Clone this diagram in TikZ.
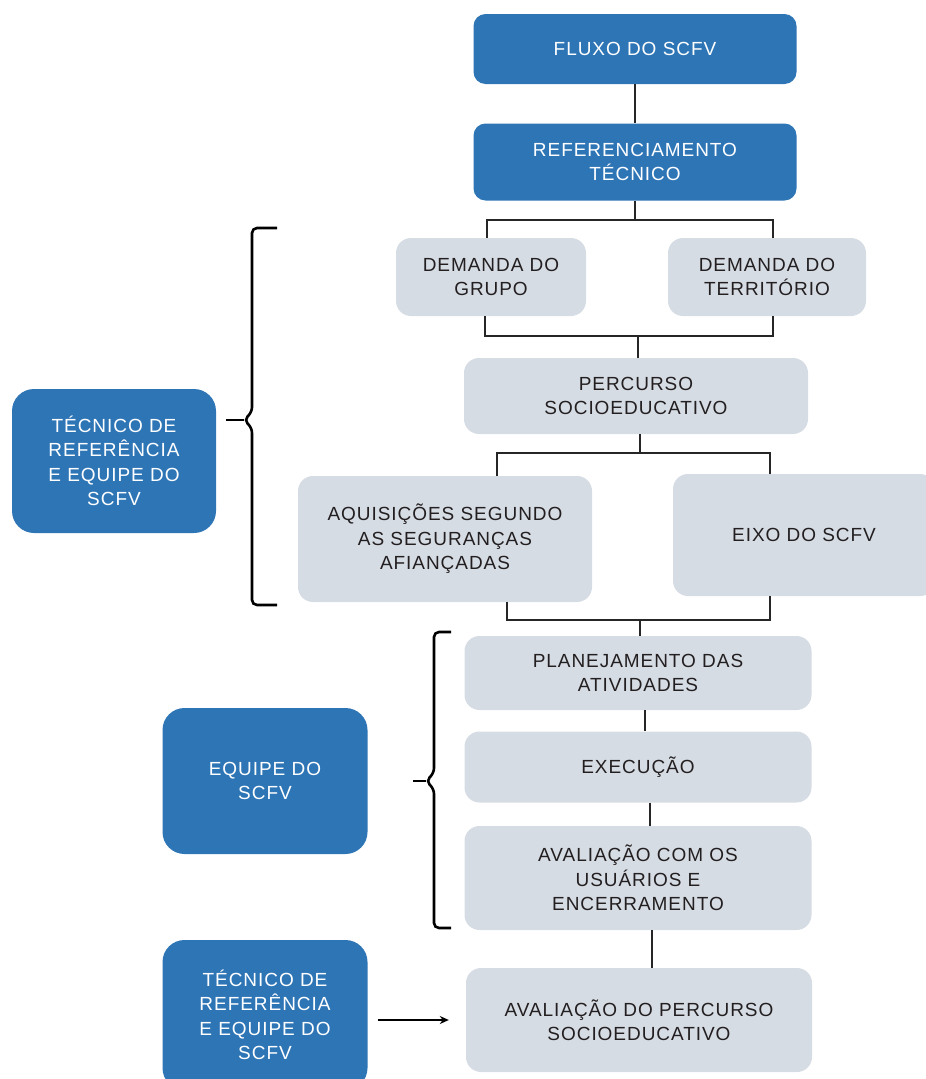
\documentclass[tikz,border=0pt]{standalone}
\usepackage{fontspec}
\setmainfont{Liberation Sans}[LetterSpace=5]
\usetikzlibrary{arrows.meta}
\definecolor{bblue}{RGB}{46,117,182}
\definecolor{bgray}{RGB}{214,220,228}
\definecolor{tdark}{RGB}{35,31,32}
\begin{document}
\begin{tikzpicture}[x=1pt,y=-1pt,
  box/.style={rectangle, rounded corners=12pt, align=center, inner sep=0pt,
              font=\fontsize{19}{24.5}\selectfont},
  bluebox/.style={box, fill=bblue, text=white},
  sidebox/.style={bluebox, rounded corners=22pt, minimum width=205, minimum height=145},
  graybox/.style={box, fill=bgray, text=tdark, rounded corners=15pt},
  conn/.style={draw=black!85, line width=1.8pt},
  bracestyle/.style={draw=black, line width=2.6pt, rounded corners=5pt}]
\useasboundingbox (0,0) rectangle (926,1079);

% main column
\node[bluebox, minimum width=323, minimum height=70] (fluxo) at (635,49) {FLUXO DO SCFV};
\node[bluebox, minimum width=323, minimum height=77] (ref) at (635,162) {REFERENCIAMENTO\\TÉCNICO};
\node[graybox, minimum width=190, minimum height=78] (grupo) at (491,277) {DEMANDA DO\\GRUPO};
\node[graybox, minimum width=198, minimum height=78] (terr) at (767,277) {DEMANDA DO\\TERRITÓRIO};
\node[graybox, minimum width=344, minimum height=76] (perc) at (636,396) {PERCURSO\\SOCIOEDUCATIVO};
\node[graybox, minimum width=294, minimum height=126] (aquis) at (445,539) {AQUISIÇÕES SEGUNDO\\AS SEGURANÇAS\\AFIANÇADAS};
\node[graybox, minimum width=262, minimum height=122] (eixo) at (804,535) {EIXO DO SCFV};
\node[graybox, minimum width=347, minimum height=74] (plan) at (638,673) {PLANEJAMENTO DAS\\ATIVIDADES};
\node[graybox, minimum width=347, minimum height=71] (exec) at (638,767) {EXECUÇÃO};
\node[graybox, minimum width=347, minimum height=104] (aval) at (638,878) {AVALIAÇÃO COM OS\\USUÁRIOS E\\ENCERRAMENTO};
\node[graybox, minimum width=346, minimum height=104] (avalp) at (639,1020) {AVALIAÇÃO DO PERCURSO\\SOCIOEDUCATIVO};

% side boxes
\node[sidebox, minimum width=204, minimum height=144] (tec1) at (114,461) {TÉCNICO DE\\REFERÊNCIA\\E EQUIPE DO\\SCFV};
\node[sidebox, minimum width=205, minimum height=146] (equipe) at (265,781) {EQUIPE DO\\SCFV};
\node[sidebox, minimum width=205, minimum height=150] (tec2) at (265,1015) {TÉCNICO DE\\REFERÊNCIA\\E EQUIPE DO\\SCFV};

% connectors
\coordinate (j1) at (635,220);
\coordinate (j2) at (638,336);
\coordinate (j3) at (640,453);
\coordinate (j4) at (640,620);

\draw[conn] (fluxo.south) -- (ref.north);
\draw[conn] (ref.south) -- (j1);
\draw[conn] ([xshift=-4]grupo.north) |- (j1) -| ([xshift=6]terr.north);
\draw[conn] ([xshift=-6]grupo.south) |- (j2) -| ([xshift=6]terr.south);
\draw[conn] (j2) -- (j2 |- perc.north);
\draw[conn] (j3 |- perc.south) -- (j3);
\draw[conn] ([xshift=52]aquis.north) |- (j3) -| ([xshift=-34]eixo.north);
\draw[conn] ([xshift=62]aquis.south) |- (j4) -| ([xshift=-34]eixo.south);
\draw[conn] (j4) -- (j4 |- plan.north);
\draw[conn] ([xshift=7]plan.south) -- ([xshift=7]exec.north);
\draw[conn] ([xshift=12]exec.south) -- ([xshift=12]aval.north);
\draw[conn] ([xshift=14]aval.south) -- ([xshift=13]avalp.north);
\draw[line width=1.6pt, -{Stealth[length=9pt,width=8pt]}] ([xshift=10]tec2.east |- avalp.west) -- ([xshift=-17]avalp.west);

% braces
\draw[bracestyle] (277,228) -- (252,228) -- (252,412) -- (244,420) -- (252,428) -- (252,605) -- (277,605);
\draw[line width=2.6pt] (tec1.east) ++(10,-41) -- (244,420);
\draw[bracestyle] (451,632) -- (434,632) -- (434,773) -- (426,781) -- (434,789) -- (434,928) -- (451,928);
\draw[line width=2.6pt] (413,781) -- (426,781);
\end{tikzpicture}
\end{document}
